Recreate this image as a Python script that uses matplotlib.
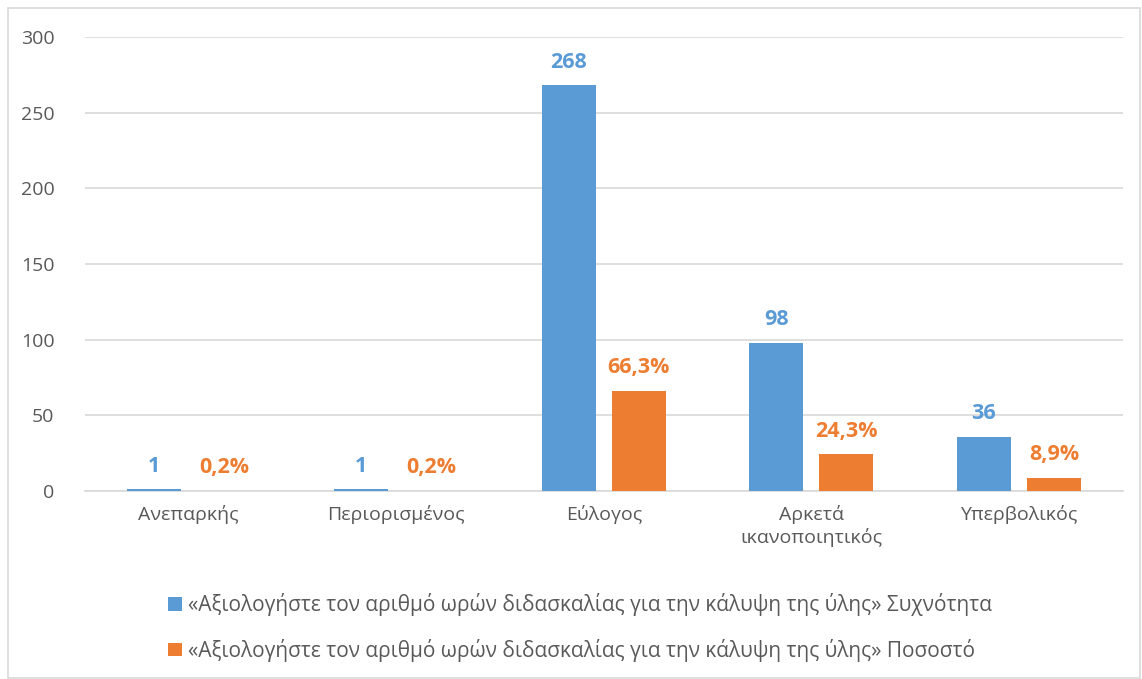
import numpy as np
import matplotlib.pyplot as plt
from matplotlib.patches import Rectangle

# Data
categories = ['Ανεπαρκής', 'Περιορισμένος', 'Εύλογος', 'Αρκετά\nικανοποιητικός', 'Υπερβολικός']
frequency = [1, 1, 268, 98, 36]
percent = [0.2, 0.2, 66.3, 24.3, 8.9]
series_names = [
    '«Αξιολογήστε τον αριθμό ωρών διδασκαλίας για την κάλυψη της ύλης» Συχνότητα',
    '«Αξιολογήστε τον αριθμό ωρών διδασκαλίας για την κάλυψη της ύλης» Ποσοστό',
]

BLUE = '#5B9BD5'
ORANGE = '#ED7D31'
TEXT = '#595959'
GRID = '#D9D9D9'

plt.rcParams['font.family'] = ['Open Sans', 'DejaVu Sans']

fig = plt.figure(figsize=(11.42, 6.79), dpi=100)
ax = fig.add_axes([0.0744, 0.2769, 0.9086, 0.6686])

x = np.arange(len(categories))
width = 0.26
offset = 0.169

b1 = ax.bar(x - offset, frequency, width, color=BLUE, label=series_names[0], zorder=3)
b2 = ax.bar(x + offset, percent, width, color=ORANGE, label=series_names[1], zorder=3)

for rect, v in zip(b1, frequency):
    ax.annotate(f'{v}', (rect.get_x() + rect.get_width() / 2, rect.get_height()),
                xytext=(0, 9), textcoords='offset points', ha='center', va='bottom',
                color=BLUE, fontsize=15.5, fontweight='bold')
for rect, v in zip(b2, percent):
    ax.annotate(f'{v:.1f}%'.replace('.', ','), (rect.get_x() + rect.get_width() / 2, rect.get_height()),
                xytext=(0, 9), textcoords='offset points', ha='center', va='bottom',
                color=ORANGE, fontsize=15.5, fontweight='bold')

ax.set_xlim(-0.5, len(categories) - 0.5)
ax.set_ylim(0, 300)
ax.set_yticks(range(0, 301, 50))
ax.set_xticks(x)
ax.set_xticklabels(categories, fontsize=14, color=TEXT, linespacing=1.25)
ax.tick_params(axis='y', labelsize=14, labelcolor=TEXT, length=0, pad=22)
ax.tick_params(axis='x', length=0, pad=10)
ax.grid(axis='y', color=GRID, linewidth=1.2, zorder=0)
for s in ['top', 'right', 'left']:
    ax.spines[s].set_visible(False)
ax.spines['bottom'].set_color(GRID)
ax.spines['bottom'].set_linewidth(1.2)

leg = fig.legend(loc='center', bbox_to_anchor=(0.508, 0.076), ncol=1, frameon=False,
                 fontsize=15, labelcolor=TEXT, handlelength=0.65, handleheight=0.65,
                 handletextpad=0.3, labelspacing=1.1)

# chart border
fig.patches.append(Rectangle((8 / 1142, 0.002), 1 - 10 / 1142, 1 - 8 / 679 - 0.002,
                             transform=fig.transFigure, fill=False,
                             edgecolor='#D9D9D9', linewidth=1.2))

fig.savefig('out.png', dpi=100)
